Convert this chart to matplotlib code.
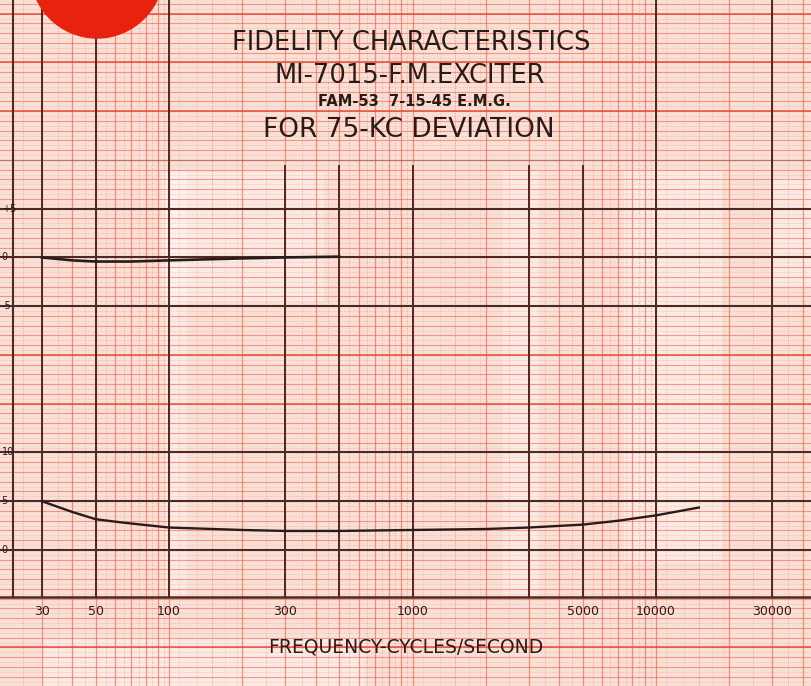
## import libraries

import numpy as np
import matplotlib
matplotlib.use("Agg")
import matplotlib.pyplot as plt
from matplotlib.patches import Ellipse, Rectangle

## data

# upper curve: frequency response, dB
resp_freq = [30, 40, 50, 70, 100, 150, 200, 300, 500]
resp_db = [0.0, -0.3, -0.42, -0.42, -0.3, -0.18, -0.1, 0.0, 0.08]

# lower curve: distortion, per cent
dist_freq = [30, 40, 50, 65, 100, 200, 300, 500, 1000, 2000, 3000, 5000, 7000, 10000, 15000]
dist_pct = [5.0, 3.9, 3.15, 2.8, 2.3, 2.05, 1.95, 1.95, 2.05, 2.15, 2.3, 2.6, 3.0, 3.55, 4.35]

x_ticks = [30, 50, 100, 300, 1000, 5000, 10000, 30000]
x_ticklabels = ["30", "50", "100", "300", "1000", "5000", "10000", "30000"]

upper_ticks = [5, 0, -5]
upper_ticklabels = ["+5", "0", "-5"]
lower_ticks = [10, 5, 0]
lower_ticklabels = ["10", "5", "0"]

## paper colours

paper = "#f9e0d6"
red = "#f0624a"
dark = "#4e2822"
ink = "#2a1b18"

fig = plt.figure(figsize=(8.11, 6.86), dpi=100)
fig.patch.set_facecolor(paper)
ax = fig.add_axes([0, 0, 1, 1])
ax.set_facecolor(paper)
ax.set_xscale("log")
ax.set_xlim(20.2, 43330)
ax.set_ylim(-13.95, 56.4)
ax.axis("off")

# upper chart lives on its own axes, 30 units above the lower one
ax2 = fig.add_axes([0, 0, 1, 1], sharex=ax)
ax2.set_ylim(-13.95 - 30, 56.4 - 30)
ax2.axis("off")
ax2.patch.set_alpha(0)

# pale patches from the scan
for (x0, y0, w, h) in [(0.20, 0.56, 0.20, 0.19), (0.205, 0.13, 0.025, 0.62),
                       (0.62, 0.13, 0.045, 0.62), (0.77, 0.18, 0.12, 0.57),
                       (0.95, 0.58, 0.05, 0.16), (0.05, 0.0, 0.4, 0.07)]:
    ax.add_patch(Rectangle((x0, y0), w, h, transform=ax.transAxes,
                           color="white", alpha=0.35, lw=0, zorder=0))

## graph paper: log verticals
for dec in [10, 100, 1000, 10000]:
    for k in np.arange(1, 10, 0.5):
        f = k * dec
        if k == int(k):
            ax.axvline(f, color=red, lw=0.9, alpha=0.65, zorder=1)
        else:
            ax.axvline(f, color=red, lw=0.6, ls=(0, (1, 2)), alpha=0.6, zorder=1)
    for k in np.arange(1.1, 2, 0.2):
        ax.axvline(k * dec, color=red, lw=0.5, ls=(0, (1, 2)), alpha=0.5, zorder=1)

# horizontals
for yy in np.arange(-14, 57, 1.0):
    ax.axhline(yy, color=red, lw=0.8, alpha=0.6, zorder=1)
for yy in np.arange(-13.5, 57, 1.0):
    ax.axhline(yy, color=red, lw=0.5, ls=(0, (1, 2)), alpha=0.5, zorder=1)
for yy in [-10, 15, 20, 45, 50, 55]:
    ax.axhline(yy, color="#e8472e", lw=1.2, alpha=0.85, zorder=1)

# heavy lines
for yy in [0, 5, 10, 25, 30, 35]:
    ax.axhline(yy, color=dark, lw=1.5, zorder=2)
ax.axhline(40, color=dark, lw=1.0, alpha=0.3, zorder=2)
ax.axhline(-4.82, color=dark, lw=1.8, zorder=2)
ax.axvline(22.9, ymin=0.13, ymax=1, color=dark, lw=1.5, zorder=2)
for f in [30, 50, 100, 10000, 30000]:
    ax.axvline(f, ymin=0.13, ymax=1, color=dark, lw=1.4, zorder=2)
for f in [300, 500, 1000, 3000, 5000]:
    ax.axvline(f, ymin=0.13, ymax=0.758, color=dark, lw=1.4, zorder=2)

## curves
ax2.plot(resp_freq, resp_db, color=ink, lw=1.9, zorder=5)
ax.plot(dist_freq, dist_pct, color=ink, lw=1.7, zorder=5)

## tick labels, drawn on the paper
for f, lab in zip(x_ticks, x_ticklabels):
    ax.text(f, -6.3, lab, ha="center", va="center", fontsize=9, color=ink, zorder=6)
for v, lab in zip(upper_ticks, upper_ticklabels):
    ax2.text(20.5, v, lab, ha="left", va="center", fontsize=7, color=ink, zorder=6)
for v, lab in zip(lower_ticks, lower_ticklabels):
    ax.text(20.5, v, lab, ha="left", va="center", fontsize=7, color=ink, zorder=6)

## titles
fig.text(411 / 811, 1 - 43 / 686, "FIDELITY CHARACTERISTICS", ha="center", va="center",
         fontsize=18.5, color=ink)
fig.text(410 / 811, 1 - 76 / 686, "MI-7015-F.M.EXCITER", ha="center", va="center",
         fontsize=18.5, color=ink)
fig.text(414 / 811, 1 - 101 / 686, "FAM-53  7-15-45 E.M.G.", ha="center", va="center",
         fontsize=10.5, fontweight="bold", color=ink)
fig.text(409 / 811, 1 - 130 / 686, "FOR 75-KC DEVIATION", ha="center", va="center",
         fontsize=19, color=ink)
fig.text(406 / 811, 1 - 647 / 686, "FREQUENCY-CYCLES/SECOND", ha="center", va="center",
         fontsize=13.5, color=ink)

# red seal at the top left corner
ax.add_patch(Ellipse((97 / 811, 1 + 28.4 / 686), 2 * 66.4 / 811, 2 * 66.4 / 686,
                     transform=ax.transAxes, color="#e8220e", zorder=7, clip_on=False))

plt.savefig("out.png", dpi=100, facecolor=fig.get_facecolor())
